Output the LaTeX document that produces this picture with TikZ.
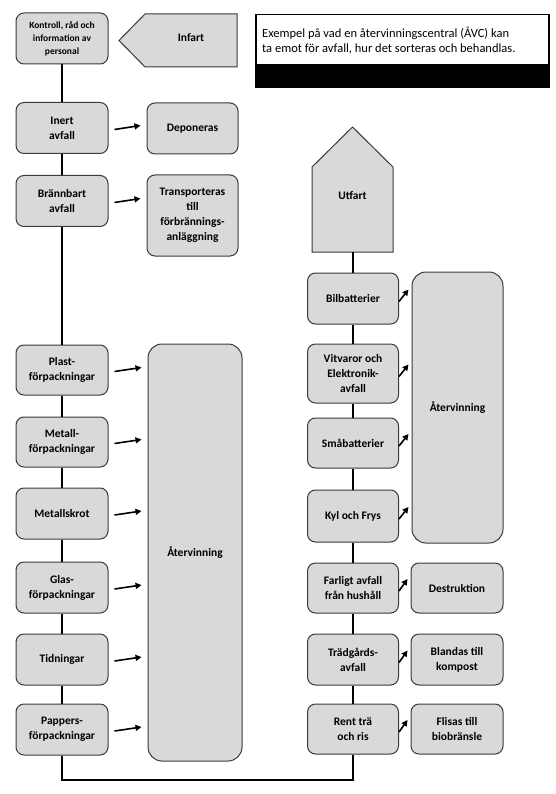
\documentclass[tikz,border=0pt]{standalone}
\usepackage{fontspec}
\setmainfont{Carlito}
\usetikzlibrary{calc,arrows.meta}
\definecolor{boxfill}{HTML}{D9D9D9}
\definecolor{boxline}{HTML}{3A3A3A}
\begin{document}
\begin{tikzpicture}[x=1pt,y=-1pt,
  wbox/.style={draw=boxline, fill=boxfill, line width=1pt, rounded corners=8pt, align=center, inner sep=0pt,
    font=\bfseries\fontsize{11.5}{15}\selectfont, minimum width=92pt, minimum height=51pt},
  rbox/.style={wbox, minimum width=91pt},
  shp/.style={draw=boxline, fill=boxfill, line width=1pt},
  txt/.style={font=\bfseries\fontsize{11.5}{15}\selectfont, align=center, inner sep=0pt},
  conn/.style={line width=2pt},
  arr/.style={line width=1.6pt, -{Triangle[length=6pt,width=6pt]}}
]
\fill[white] (0,0) rectangle (555,794);
\useasboundingbox (0,0) rectangle (555,794);

% top row
\node[wbox, font=\bfseries\fontsize{9.5}{13}\selectfont] (kontroll) at (62,38.5) {Kontroll, råd och\\information av\\personal};
\draw[shp] (145,14) -- (237,14) -- (237,67) -- (145,67) -- (119,40.5) -- cycle;
\node[txt] (infart) at (191,38) {Infart};

\node[draw=black, line width=1.5pt, anchor=north west, minimum width=293pt, minimum height=73pt, inner sep=0pt] (info) at (255,14) {};
\fill[black] (255,64) rectangle (548,87);
\node[anchor=west, align=left, inner sep=0pt, font=\fontsize{12.5}{15}\selectfont] (infotext) at (262,41) {Exempel på vad en återvinningscentral (ÅVC) kan\\ta emot för avfall, hur det sorteras och behandlas.};

% left column
\node[wbox] (inert) at (62,128) {Inert\\avfall};
\node[wbox, minimum width=91pt] (deponeras) at (192.5,128.5) {Deponeras};
\node[wbox] (branbart) at (62,201) {Brännbart\\avfall};
\node[wbox, minimum width=91pt, minimum height=81pt] (transp) at (192.5,215.5) {Transporteras\\till\\förbrännings-\\anläggning};
\node[wbox, minimum height=50pt] (plast) at (62,370) {Plast-\\förpackningar};
\node[wbox, minimum height=50pt] (metallf) at (62,442) {Metall-\\förpackningar};
\node[wbox] (skrot) at (62,513.5) {Metallskrot};
\node[wbox] (glas) at (62,587.5) {Glas-\\förpackningar};
\node[wbox] (tidn) at (62,659.5) {Tidningar};
\node[wbox] (pappers) at (62,729.5) {Pappers-\\förpackningar};
\node[wbox, minimum width=94pt, minimum height=417pt, rounded corners=14pt] (aterL) at (195,552.5) {Återvinning};

% right column
\draw[shp] (312,252) -- (312,167) -- (352.5,127) -- (393,167) -- (393,252) -- cycle;
\coordinate (utfartB) at (353,252);
\node[txt] (utfart) at (352.5,196) {Utfart};
\node[rbox] (bilb) at (353,298.5) {Bilbatterier};
\node[rbox, minimum height=59pt] (vitv) at (353,373.5) {Vitvaror och\\Elektronik-\\avfall};
\node[rbox, minimum height=50pt] (smab) at (353,443) {Småbatterier};
\node[rbox, minimum height=52pt] (kyl) at (353,516) {Kyl och Frys};
\node[rbox, minimum height=50pt] (farl) at (353,588) {Farligt avfall\\från hushåll};
\node[rbox] (tradg) at (353,659.5) {Trädgårds-\\avfall};
\node[rbox, minimum height=50pt] (rent) at (353,729) {Rent trä\\och ris};
\node[rbox, minimum height=271pt, rounded corners=14pt] (aterR) at (457.5,407.5) {Återvinning};
\node[wbox, minimum height=50pt] (destr) at (457,588) {Destruktion};
\node[wbox] (bland) at (457,659.5) {Blandas till\\kompost};
\node[wbox, minimum height=50pt] (flis) at (457,729) {Flisas till\\biobränsle};

% main line
\coordinate (bl) at (62,780);
\coordinate (br) at (353,780);
\draw[conn] (kontroll) -- (inert);
\draw[conn] (inert) -- (branbart);
\draw[conn] (branbart) -- (plast);
\draw[conn] (plast) -- (metallf);
\draw[conn] (metallf) -- (skrot);
\draw[conn] (skrot) -- (glas);
\draw[conn] (glas) -- (tidn);
\draw[conn] (tidn) -- (pappers);
\draw[conn] (pappers) -- (bl) -- (br) -- (rent);
\draw[conn] (rent) -- (tradg);
\draw[conn] (tradg) -- (farl);
\draw[conn] (farl) -- (kyl);
\draw[conn] (kyl) -- (smab);
\draw[conn] (smab) -- (vitv);
\draw[conn] (vitv) -- (bilb);
\draw[conn] (bilb) -- (utfartB);

% left arrows
\foreach \a/\b in {inert/deponeras, branbart/transp, plast/aterL, metallf/aterL, skrot/aterL, glas/aterL, tidn/aterL, pappers/aterL}
  \draw[arr] ($(\a.east)+(6,1.5)$) -- ($(\a.east -| \b.west)+(-6,-2.5)$);

% right arrows
\foreach \a/\b in {bilb/aterR, vitv/aterR, smab/aterR, kyl/aterR, farl/destr, tradg/bland, rent/flis}
  \draw[arr] ($(\a.east)+(0,3)$) -- ($(\a.east -| \b.west)+(-3,-9)$);
\end{tikzpicture}
\end{document}
